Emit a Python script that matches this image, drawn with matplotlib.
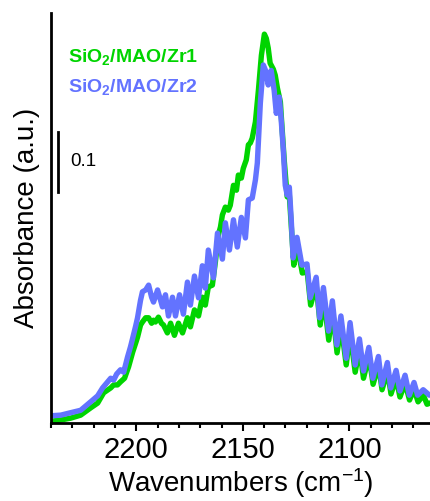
import numpy as np
import matplotlib
matplotlib.use('Agg')
import matplotlib.pyplot as plt
import matplotlib.transforms as mtransforms

plt.rcParams['font.family'] = ['Liberation Sans', 'DejaVu Sans']
plt.rcParams['mathtext.fontset'] = 'custom'
plt.rcParams['mathtext.rm'] = 'Liberation Sans'
plt.rcParams['mathtext.bf'] = 'Liberation Sans:bold'
plt.rcParams['mathtext.default'] = 'regular'

#------------------------------------------------------------------------------------------------------------------------
# data (wavenumber in cm-1, absorbance)

wn_zr1 = [2239.7, 2235.4, 2230.8, 2226.1, 2221.4, 2218.1, 2215.3, 2212.0, 2210.6, 2208.8,
          2207.4, 2205.5, 2203.6, 2201.7, 2200.3, 2199.4, 2198.0, 2197.1, 2195.6, 2194.2,
          2192.8, 2191.9, 2191.0, 2189.6, 2188.2, 2187.2, 2185.4, 2183.9, 2182.1, 2180.2,
          2178.3, 2176.0, 2174.6, 2172.7, 2170.8, 2169.0, 2167.6, 2166.2, 2164.3, 2162.9,
          2161.5, 2160.5, 2159.6, 2158.2, 2156.8, 2155.9, 2154.4, 2153.0, 2152.1, 2150.7,
          2149.8, 2148.4, 2147.4, 2146.5, 2145.6, 2144.1, 2142.7, 2141.3, 2139.9, 2139.0,
          2138.1, 2137.2, 2135.7, 2134.8, 2133.8, 2132.4, 2132.0, 2130.6, 2129.2, 2128.2,
          2127.3, 2126.1, 2124.5, 2122.1, 2119.8, 2118.2, 2115.6, 2113.7, 2112.1, 2109.7,
          2107.9, 2105.8, 2103.9, 2101.5, 2099.7, 2097.3, 2095.2, 2093.4, 2090.8, 2088.9,
          2086.3, 2084.7, 2082.1, 2080.5, 2078.1, 2076.3, 2073.9, 2071.8, 2069.7, 2067.8,
          2065.3, 2063.6, 2062.2]
abs_zr1 = [0.003, 0.005, 0.008, 0.013, 0.025, 0.033, 0.050, 0.058, 0.063, 0.063,
           0.068, 0.074, 0.093, 0.117, 0.132, 0.142, 0.162, 0.167, 0.174, 0.174,
           0.165, 0.170, 0.167, 0.175, 0.165, 0.162, 0.149, 0.165, 0.145, 0.165,
           0.149, 0.174, 0.159, 0.187, 0.177, 0.208, 0.195, 0.225, 0.228, 0.266,
           0.311, 0.324, 0.344, 0.357, 0.352, 0.360, 0.393, 0.385, 0.410, 0.405,
           0.421, 0.435, 0.460, 0.463, 0.471, 0.498, 0.550, 0.608, 0.643, 0.636,
           0.620, 0.595, 0.585, 0.575, 0.554, 0.531, 0.509, 0.435, 0.374, 0.377,
           0.327, 0.261, 0.294, 0.248, 0.250, 0.195, 0.228, 0.162, 0.210, 0.137,
           0.187, 0.116, 0.162, 0.096, 0.150, 0.084, 0.124, 0.074, 0.111, 0.064,
           0.096, 0.055, 0.086, 0.048, 0.074, 0.043, 0.066, 0.038, 0.056, 0.035,
           0.046, 0.031, 0.033]

wn_zr2 = [2239.7, 2235.4, 2230.8, 2226.1, 2221.4, 2218.1, 2215.8, 2213.9, 2212.0, 2210.6,
          2209.2, 2207.4, 2205.9, 2204.1, 2202.7, 2201.7, 2200.3, 2199.4, 2198.0, 2197.1,
          2195.6, 2194.2, 2192.8, 2191.9, 2190.0, 2188.6, 2187.7, 2186.3, 2184.9, 2183.0,
          2181.6, 2179.7, 2177.9, 2176.0, 2174.6, 2172.7, 2170.8, 2169.0, 2167.6, 2166.2,
          2163.8, 2161.9, 2159.6, 2158.2, 2156.3, 2154.4, 2152.6, 2150.7, 2148.8, 2147.4,
          2145.6, 2144.1, 2143.2, 2141.8, 2140.4, 2139.0, 2138.1, 2136.7, 2135.3, 2134.3,
          2132.9, 2132.0, 2131.0, 2130.1, 2129.2, 2128.2, 2127.3, 2126.4, 2124.6, 2122.3,
          2119.9, 2118.4, 2115.6, 2114.0, 2112.2, 2109.8, 2108.0, 2105.9, 2104.0, 2101.5,
          2099.7, 2097.3, 2095.3, 2093.4, 2090.9, 2089.0, 2086.4, 2084.8, 2082.2, 2080.6,
          2078.1, 2076.3, 2073.9, 2071.9, 2069.7, 2068.0, 2065.4, 2062.5]
abs_zr2 = [0.012, 0.013, 0.017, 0.021, 0.035, 0.045, 0.058, 0.066, 0.074, 0.071,
           0.081, 0.088, 0.084, 0.109, 0.126, 0.140, 0.160, 0.174, 0.203, 0.217,
           0.220, 0.228, 0.208, 0.200, 0.220, 0.203, 0.192, 0.212, 0.177, 0.208,
           0.177, 0.212, 0.180, 0.233, 0.195, 0.243, 0.207, 0.260, 0.223, 0.286,
           0.240, 0.314, 0.271, 0.331, 0.286, 0.336, 0.291, 0.340, 0.306, 0.369,
           0.372, 0.402, 0.430, 0.529, 0.592, 0.580, 0.559, 0.583, 0.550, 0.512,
           0.539, 0.501, 0.451, 0.393, 0.377, 0.390, 0.336, 0.273, 0.307, 0.261,
           0.263, 0.207, 0.241, 0.174, 0.224, 0.152, 0.202, 0.129, 0.177, 0.107,
           0.166, 0.096, 0.139, 0.086, 0.125, 0.074, 0.110, 0.063, 0.100, 0.058,
           0.087, 0.053, 0.079, 0.046, 0.067, 0.046, 0.055, 0.046]

labels = [r'SiO$_\mathbf{2}$/MAO/Zr1', r'SiO$_\mathbf{2}$/MAO/Zr2']
colors = ['#00D400', '#6373FF']
scale_bar = 0.1

#------------------------------------------------------------------------------------------------------------------------

fig = plt.figure(figsize=(4.30, 5.01), dpi=100)
ax = fig.add_axes([51/430, 1 - 423/501, 379/430, 410/501])

ax.plot(wn_zr1, abs_zr1, color=colors[0], lw=3.9, solid_joinstyle='round', solid_capstyle='round')
ax.plot(wn_zr2, abs_zr2, color=colors[1], lw=3.9, solid_joinstyle='round', solid_capstyle='round')

ax.set_xlim(2240, 2062.2)
ax.set_ylim(0, 0.678)

ax.set_xticks([2200, 2150, 2100])
ax.set_xticks(np.arange(2070, 2241, 10), minor=True)
ax.set_yticks([])
ax.tick_params(axis='x', which='major', direction='out', length=6, width=1.5, labelsize=21, pad=3)
ax.tick_params(axis='x', which='minor', direction='out', length=3.5, width=1.5)

for s in ['top', 'right']:
    ax.spines[s].set_visible(False)
for s in ['left', 'bottom']:
    ax.spines[s].set_linewidth(2)

xl = ax.set_xlabel(r'Wavenumbers (cm$^{-1}$)', fontsize=20)
xl.set_va('baseline')
ax.xaxis.set_label_coords(0.5, -0.1683)
ax.set_ylabel('Absorbance (a.u.)', fontsize=20, labelpad=8)

# scale bar
trans = mtransforms.blended_transform_factory(ax.transAxes, ax.transData)
ax.plot([0.0185, 0.0185], [0.382, 0.382 + scale_bar], color='k', lw=2, transform=trans, clip_on=False)
ax.text(0.050, 0.382 + scale_bar / 2, str(scale_bar), transform=trans, fontsize=13.5, va='center', ha='left')

# legend as coloured text
ax.text(0.045, 0.893, labels[0], transform=ax.transAxes, color=colors[0], fontsize=14,
        fontweight='bold', va='center', ha='left')
ax.text(0.045, 0.820, labels[1], transform=ax.transAxes, color=colors[1], fontsize=14,
        fontweight='bold', va='center', ha='left')

fig.savefig('out.png', dpi=100)
